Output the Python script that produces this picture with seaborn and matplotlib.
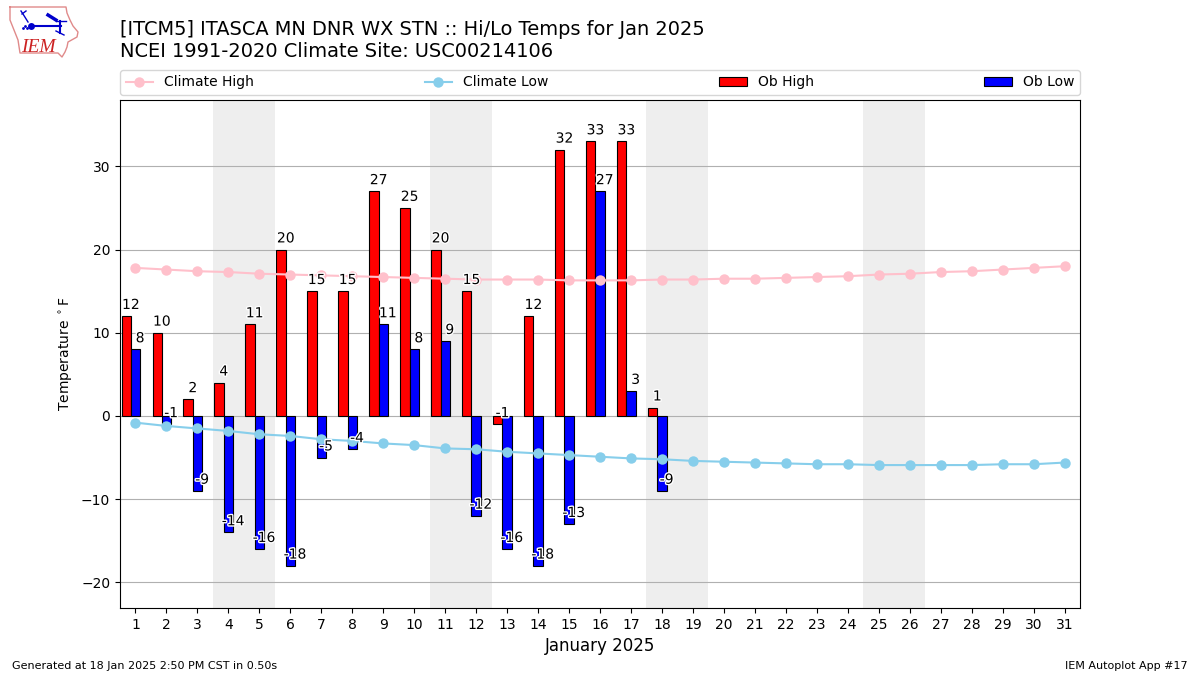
# ITASCA MN daily hi/lo temps vs climate, Jan 2025

import seaborn as sns
import matplotlib
matplotlib.use('Agg')
import matplotlib.pyplot as plt
import matplotlib.patheffects as pe
import numpy as np
import pandas as pd

days = list(range(1, 32))
obs_days = list(range(1, 19))
ob_high = [12, 10, 2, 4, 11, 20, 15, 15, 27, 25, 20, 15, -1, 12, 32, 33, 33, 1]
ob_low = [8, -1, -9, -14, -16, -18, -5, -4, 11, 8, 9, -12, -16, -18, -13, 27, 3, -9]
climate_high = [17.8, 17.6, 17.4, 17.3, 17.1, 17.0, 16.9, 16.8, 16.7, 16.6, 16.5,
                16.4, 16.4, 16.4, 16.3, 16.3, 16.3, 16.4, 16.4, 16.5, 16.5, 16.6,
                16.7, 16.8, 17.0, 17.1, 17.3, 17.4, 17.6, 17.8, 18.0]
climate_low = [-0.8, -1.2, -1.5, -1.8, -2.2, -2.4, -2.8, -3.0, -3.3, -3.5, -3.9,
               -4.0, -4.3, -4.5, -4.7, -4.9, -5.1, -5.2, -5.4, -5.5, -5.6, -5.7,
               -5.8, -5.8, -5.9, -5.9, -5.9, -5.9, -5.8, -5.8, -5.6]
weekends = [(3.5, 5.5), (10.5, 12.5), (17.5, 19.5), (24.5, 26.5)]

climate = pd.DataFrame({'day': days, 'high': climate_high, 'low': climate_low})
obs = pd.DataFrame({'day': obs_days, 'high': ob_high, 'low': ob_low})
obs['high_x'] = obs['day'] - 0.3

fig = plt.figure(figsize=(12, 6.75), dpi=100)
ax = fig.add_axes([120 / 1200, 1 - 608 / 675, 960 / 1200, 508 / 675])

for start, end in weekends:
    ax.axvspan(start, end, color='#eeeeee', zorder=0, lw=0)

sns.barplot(data=obs, x='high_x', y='high', native_scale=True, width=0.3,
            color='red', saturation=1, edgecolor='black', linewidth=0.8,
            errorbar=None, label='Ob High', ax=ax, zorder=2)
sns.barplot(data=obs, x='day', y='low', native_scale=True, width=0.3,
            color='blue', saturation=1, edgecolor='black', linewidth=0.8,
            errorbar=None, label='Ob Low', ax=ax, zorder=2)
sns.lineplot(data=climate, x='day', y='high', color='pink', marker='o',
             markersize=7.5, markeredgewidth=0, linewidth=1.5, label='Climate High',
             ax=ax, zorder=3)
sns.lineplot(data=climate, x='day', y='low', color='skyblue', marker='o',
             markersize=7.5, markeredgewidth=0, linewidth=1.5, label='Climate Low',
             ax=ax, zorder=3)

# value labels with a white halo
halo = [pe.withStroke(linewidth=2, foreground='white')]
for d, hi, lo in zip(obs_days, ob_high, ob_low):
    ax.text(d - 0.15, hi + 0.5, str(hi), ha='center', va='bottom', fontsize=10,
            path_effects=halo, zorder=5)
    ax.text(d + 0.15, lo + 0.5, str(lo), ha='center', va='bottom', fontsize=10,
            path_effects=halo, zorder=5)

ax.set_xlim(0.5, 31.5)
ax.set_ylim(-23.08, 37.98)
ax.set_xticks(days)
ax.set_xticklabels([str(d) for d in days])
ax.set_yticks([-20, -10, 0, 10, 20, 30])
ax.yaxis.grid(True, color='#b0b0b0', linewidth=0.8)
ax.xaxis.grid(False)
ax.set_axisbelow(True)
ax.set_xlabel('January 2025', fontsize=12)
ax.set_ylabel(r'Temperature $^\circ$F', fontsize=10)

handles, labels = ax.get_legend_handles_labels()
order = [labels.index(n) for n in ['Climate High', 'Climate Low', 'Ob High', 'Ob Low']]
ax.legend([handles[i] for i in order], [labels[i] for i in order], ncol=4,
          mode='expand', loc='lower left', bbox_to_anchor=(0, 1.0098, 1, 0.049),
          borderaxespad=0, fontsize=10)

fig.text(120 / 1200, 1 - 61 / 675,
         '[ITCM5] ITASCA MN DNR WX STN :: Hi/Lo Temps for Jan 2025\n'
         'NCEI 1991-2020 Climate Site: USC00214106',
         fontsize=13.98, ha='left', va='bottom')
fig.text(12 / 1200, 1 - 671 / 675, 'Generated at 18 Jan 2025 2:50 PM CST in 0.50s',
         fontsize=8, ha='left', va='bottom')
fig.text(1188 / 1200, 1 - 671 / 675, 'IEM Autoplot App #17',
         fontsize=8, ha='right', va='bottom')

# small IEM logo, pixel coordinates inside its own axes
logo = fig.add_axes([0, 1 - 60 / 675, 80 / 1200, 60 / 675])
logo.set_xlim(0, 80)
logo.set_ylim(60, 0)
logo.axis('off')
outline_x = [10, 66, 67, 70, 73, 78, 77, 68, 67, 65, 62, 58, 20, 18, 14, 10, 10]
outline_y = [7, 7, 13, 20, 26, 32, 37, 42, 47, 52, 57, 53, 53, 40, 30, 20, 7]
logo.plot(outline_x, outline_y, color='#e08a8a', linewidth=1)
logo.plot([31, 61], [26, 26], color='#0000cc', linewidth=1.5)
logo.plot([31], [26], 'o', color='#0000cc', markersize=5, markeredgewidth=0)
logo.plot([28, 23, 21], [22, 14, 11], color='#0000cc', linewidth=1)
logo.plot([22, 26], [14, 11], color='#0000cc', linewidth=1)
logo.plot([48, 56], [15, 20], color='#0000cc', linewidth=2.5)
logo.plot([56, 66], [21, 21], color='#0000cc', linewidth=1)
logo.plot([60, 60], [21, 33], color='#0000cc', linewidth=1.5)
logo.plot([56, 64], [31, 35], color='#0000cc', linewidth=1)
logo.plot([23, 25, 27], [28, 26, 28], '.', color='#0000cc', markersize=2)
logo.text(21, 52, 'IEM', color='#cc2222', fontsize=14, family='Liberation Serif',
          style='italic', ha='left', va='baseline')

plt.savefig('out.png', dpi=100)
